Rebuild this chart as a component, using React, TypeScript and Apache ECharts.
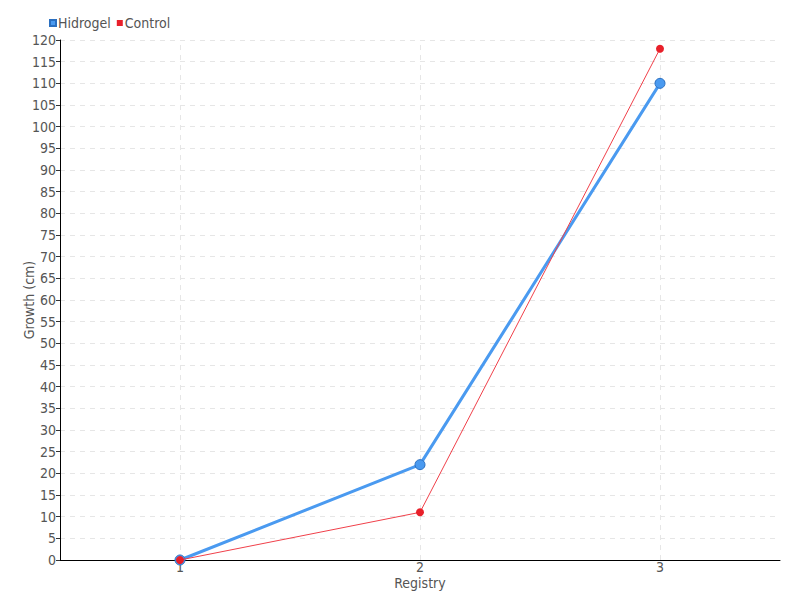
import React, { useEffect, useRef } from "react";
import * as echarts from "echarts";

const categories = ["1", "2", "3"];
const hidrogel = [0, 22, 110];
const control = [0, 11, 118];
const seriesNames = ["Hidrogel", "Control"];

const FONT = "'DejaVu Sans Condensed', 'Liberation Sans Narrow', sans-serif";

export default function App() {
  const ref = useRef<HTMLDivElement>(null);
  useEffect(() => {
    const chart = echarts.init(ref.current!, null, { renderer: "svg" });
    chart.setOption({
      animation: false,
      textStyle: { fontFamily: FONT },
      legend: {
        left: 44,
        top: 11,
        itemWidth: 6,
        itemHeight: 6,
        itemGap: 6,
        icon: "rect",
        textStyle: { fontFamily: FONT, fontSize: 14, color: "#555", padding: [0, 0, 0, -3] },
        data: seriesNames,
      },
      grid: { left: 60, right: 20, top: 40, bottom: 40 },
      xAxis: {
        type: "category",
        data: categories,
        boundaryGap: true,
        name: "Registry",
        nameLocation: "middle",
        nameGap: 16,
        nameMoveOverlap: false,
        nameTextStyle: { fontFamily: FONT, fontSize: 14, color: "#555" },
        axisLine: { lineStyle: { color: "#000", width: 1 } },
        axisTick: { alignWithLabel: true, length: 6, lineStyle: { color: "#666" } },
        axisLabel: { fontFamily: FONT, fontSize: 14, color: "#555", margin: 0 },
        splitLine: { show: false },
      },
      yAxis: {
        type: "value",
        min: 0,
        max: 120,
        interval: 5,
        name: "Growth (cm)",
        nameLocation: "middle",
        nameGap: 24,
        nameMoveOverlap: false,
        nameTextStyle: { fontFamily: FONT, fontSize: 14, color: "#555" },
        axisLine: { show: true, lineStyle: { color: "#000", width: 1 } },
        axisTick: { show: true, length: 4, lineStyle: { color: "#333" } },
        axisLabel: { fontFamily: FONT, fontSize: 14, color: "#555", margin: 4 },
        splitLine: { show: true, lineStyle: { color: "#e6e6e6", type: [5, 5], width: 1 } },
      },
      series: [
        {
          name: seriesNames[0],
          type: "line",
          data: hidrogel,
          color: "#4a9af0",
          lineStyle: { width: 3, color: "#4a9af0" },
          symbol: "circle",
          symbolSize: 10,
          itemStyle: { color: "#4a9af0", borderColor: "#2a6fc0", borderWidth: 1 },
          z: 2,
          markLine: {
            silent: true,
            symbol: ["none", "none"],
            label: { show: false },
            lineStyle: { color: "#e6e6e6", type: [5, 5], width: 1 },
            emphasis: { disabled: true },
            data: categories.map((c) => [
              { coord: [c, 0] },
              { coord: [c, 120] },
            ]),
            z: 0,
          },
        },
        {
          name: seriesNames[1],
          type: "line",
          data: control,
          color: "#e8202a",
          lineStyle: { width: 1, color: "#f0404a" },
          symbol: "circle",
          symbolSize: 8,
          itemStyle: { color: "#e8202a" },
          z: 3,
        },
      ],
    });
    return () => chart.dispose();
  }, []);
  return <div ref={ref} style={{ width: 800, height: 600, position: "absolute", left: 0, top: 0 }} />;
}
